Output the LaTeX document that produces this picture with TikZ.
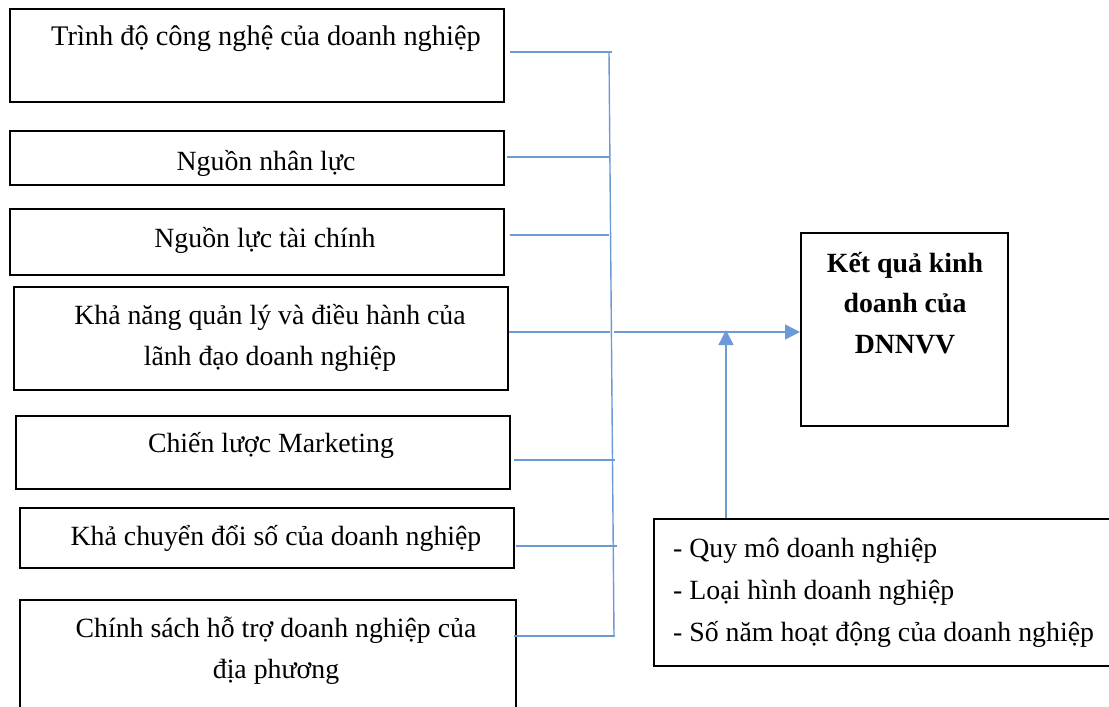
\documentclass[tikz,border=0pt]{standalone}
\usepackage{fontspec}
\setmainfont{Liberation Serif}
\usetikzlibrary{arrows.meta}
\definecolor{conn}{RGB}{108,154,214}
\begin{document}
\begin{tikzpicture}[x=1pt,y=-1pt,
  box/.style={draw=black, line width=1.8pt, anchor=north west, inner sep=0pt},
  txt/.style={font=\fontsize{27.8}{41}\selectfont, align=center, inner sep=0pt},
  wire/.style={draw=conn, line width=1.4pt},
  arr/.style={wire, -{Triangle[length=15pt,width=15pt]}}]
\useasboundingbox (0,0) rectangle (1109,707);

% left boxes
\node[box, minimum width=494pt, minimum height=93pt] (b1) at (9,8) {};
\node[box, minimum width=494pt, minimum height=54pt] (b2) at (9,130) {};
\node[box, minimum width=494pt, minimum height=66pt] (b3) at (9,208) {};
\node[box, minimum width=494pt, minimum height=103pt] (b4) at (13,286) {};
\node[box, minimum width=494pt, minimum height=73pt] (b5) at (15,415) {};
\node[box, minimum width=494pt, minimum height=60pt] (b6) at (19,507) {};
\node[box, minimum width=496pt, minimum height=140pt] (b7) at (19,599) {};

\node[txt, font=\fontsize{28.4}{41}\selectfont] (t1) at (266,39) {Trình độ công nghệ của doanh nghiệp};
\node[txt] (t2) at (266,163) {Nguồn nhân lực};
\node[txt] (t3) at (265,240) {Nguồn lực tài chính};
\node[txt] (t4) at (270,338) {Khả năng quản lý và điều hành của\\lãnh đạo doanh nghiệp};
\node[txt] (t5) at (271,445) {Chiến lược Marketing};
\node[txt] (t6) at (276,538) {Khả chuyển đổi số của doanh nghiệp};
\node[txt] (t7) at (276,651) {Chính sách hỗ trợ doanh nghiệp của\\địa phương};

% result box
\node[box, minimum width=207pt, minimum height=193pt] (res) at (800,232) {};
\node[txt, font=\fontsize{27.8}{40.5}\selectfont\bfseries] (rt) at (905,303) {Kết quả kinh\\doanh của\\DNNVV};

% control box
\node[box, minimum width=480pt, minimum height=147pt] (ctl) at (653,518) {};
\node[txt, align=left, anchor=west, font=\fontsize{27.8}{42}\selectfont] (ct) at (673,593) {- Quy mô doanh nghiệp\\- Loại hình doanh nghiệp\\- Số năm hoạt động của doanh nghiệp};

% bus coordinates
\coordinate (j1) at (609,52);
\coordinate (j2) at (609,157);
\coordinate (j3) at (609,235);
\coordinate (j4) at (610,332);
\coordinate (j5) at (612,460);
\coordinate (j6) at (613,546);
\coordinate (j7) at (614,636);
\coordinate (jt) at (726,332);

\draw[wire] ([xshift=5pt]b1.east |- j1) -- ([xshift=3pt]j1);
\draw[wire] ([xshift=2pt]b2.east |- j2) -- (j2);
\draw[wire] ([xshift=5pt]b3.east |- j3) -- (j3);
\draw[wire] ([xshift=0pt]b4.east |- j4) -- (j4);
\draw[wire] ([xshift=3pt]b5.east |- j5) -- ([xshift=3pt]j5);
\draw[wire] ([xshift=1pt]b6.east |- j6) -- ([xshift=4pt]j6);
\draw[wire] ([xshift=-3pt]b7.east |- j7) -- ([xshift=1pt]j7);
\draw[wire] (j1) -- (j7);

\draw[arr] ([xshift=4pt]j4) -- (res.west |- j4);
\draw[arr] (ctl.north -| jt) -- ([yshift=2pt]jt);
\end{tikzpicture}
\end{document}
